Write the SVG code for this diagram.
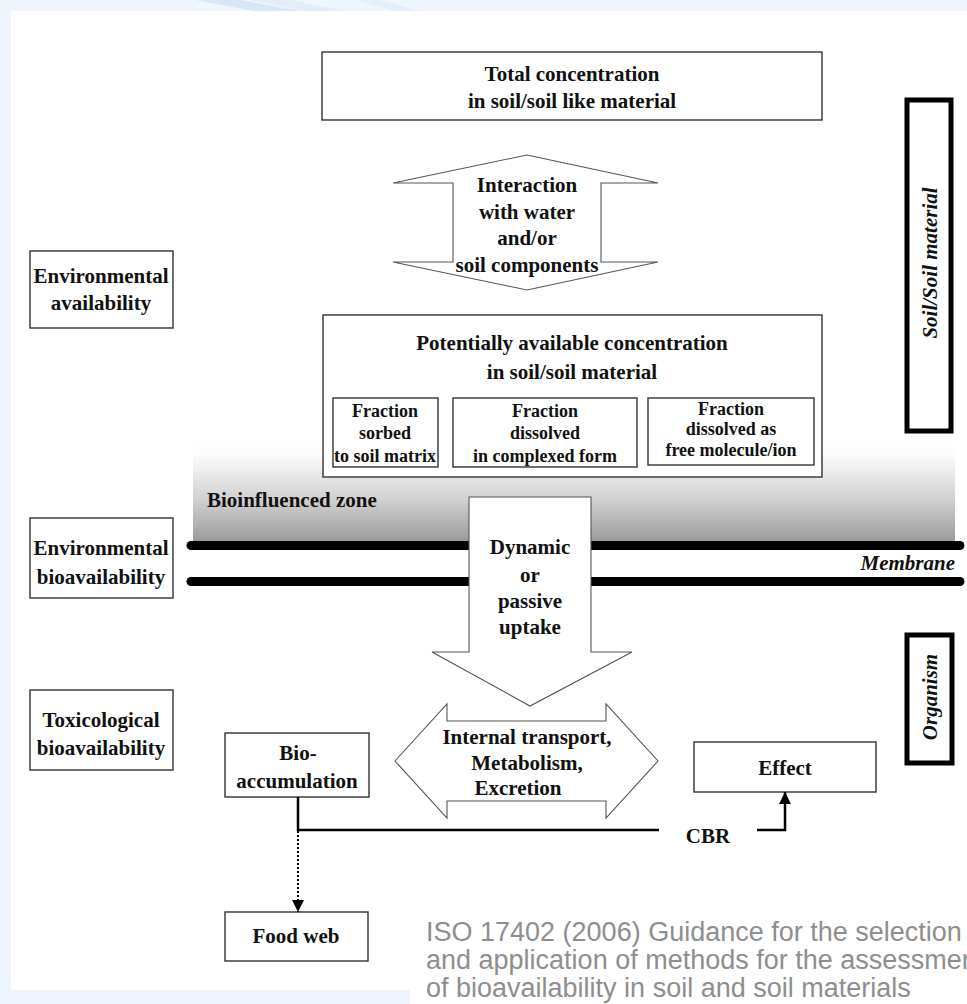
<svg xmlns="http://www.w3.org/2000/svg" width="967" height="1004" viewBox="0 0 967 1004">
<style>
.t{font-family:"Liberation Serif","Times New Roman",serif;font-weight:bold;font-size:21px;fill:#111;text-anchor:middle}
.s{font-size:18px}
.it{font-style:italic}
.box{fill:#fff;stroke:#333;stroke-width:1.4}
.thick{fill:#fff;stroke:#000;stroke-width:5}
.arr{fill:#fff;stroke:#555;stroke-width:1.1}
.mem{stroke:#000;stroke-width:9;stroke-linecap:round;fill:none}
.cap{font-family:"Liberation Sans",Arial,sans-serif;font-size:27px;fill:#8e8e8e}
</style>
<defs>
<linearGradient id="bio" gradientUnits="userSpaceOnUse" x1="0" y1="440" x2="0" y2="542">
<stop offset="0" stop-color="#fff"/>
<stop offset="0.15" stop-color="#fcfcfc"/>
<stop offset="0.6" stop-color="#cfcfcf"/>
<stop offset="1" stop-color="#999"/>
</linearGradient>
<marker id="ah" viewBox="0 0 12 12" refX="12" refY="6" markerWidth="12" markerHeight="12" markerUnits="userSpaceOnUse" orient="auto">
<path d="M0,0 L12,6 L0,12 z" fill="#000"/>
</marker>
</defs>
<g id="background">
<rect x="0" y="0" width="967" height="1004" fill="#eef5fc"/>
<polygon points="195,0 240,0 300,11 255,11" fill="#d9e7f5"/>
<polygon points="250,0 290,0 345,11 305,11" fill="#e2edf8"/>
<polygon points="355,0 380,0 420,11 395,11" fill="#e4eef8"/>
<rect x="11" y="11" width="956" height="979" fill="#fff"/>
<rect x="410" y="985" width="557" height="19" fill="#fff"/>
</g>
<g id="bioinfluenced-zone">
<rect x="193" y="440" width="762" height="102" fill="url(#bio)"/>
<text class="t" x="207" y="507" style="text-anchor:start">Bioinfluenced zone</text>
</g>
<g id="membrane">
<line class="mem" x1="191" y1="545.5" x2="960" y2="545.5"/>
<line class="mem" x1="191" y1="581.5" x2="960" y2="581.5"/>
<text class="t it" x="955" y="570" style="text-anchor:end">Membrane</text>
</g>
<g id="total-concentration">
<rect class="box" x="322" y="52" width="500" height="68"/>
<text class="t" x="572" y="81">Total concentration</text>
<text class="t" x="572" y="108">in soil/soil like material</text>
</g>
<g id="interaction">
<polygon class="arr" points="527,155 658,183 601,183 601,262 658,262 527,290 393,262 453,262 453,183 393,183"/>
<text class="t" x="527" y="192">Interaction</text>
<text class="t" x="527" y="219">with water</text>
<text class="t" x="527" y="245">and/or</text>
<text class="t" x="527" y="272">soil components</text>
</g>
<g id="potentially-available">
<rect class="box" x="323" y="315" width="499" height="162"/>
<text class="t" x="572" y="350">Potentially available concentration</text>
<text class="t" x="572" y="379">in soil/soil material</text>
</g>
<g id="fraction-sorbed">
<rect class="box" x="333" y="398" width="105" height="69"/>
<text class="t s" x="385" y="417">Fraction</text>
<text class="t s" x="385" y="439">sorbed</text>
<text class="t s" x="385" y="462">to soil matrix</text>
</g>
<g id="fraction-complexed">
<rect class="box" x="453" y="398" width="184" height="69"/>
<text class="t s" x="545" y="417">Fraction</text>
<text class="t s" x="545" y="439">dissolved</text>
<text class="t s" x="545" y="462">in complexed form</text>
</g>
<g id="fraction-free">
<rect class="box" x="648" y="398" width="166" height="67"/>
<text class="t s" x="731" y="415">Fraction</text>
<text class="t s" x="731" y="435">dissolved as</text>
<text class="t s" x="731" y="456">free molecule/ion</text>
</g>
<g id="uptake">
<polygon class="arr" points="469,497 591,497 591,652 632,652 530,706 432,652 469,652"/>
<text class="t" x="530" y="554">Dynamic</text>
<text class="t" x="530" y="582">or</text>
<text class="t" x="530" y="608">passive</text>
<text class="t" x="530" y="634">uptake</text>
</g>
<g id="internal-transport">
<polygon class="arr" points="395,761 447,704 447,721 606,721 606,704 658,761 606,818 606,801 447,801 447,818"/>
<text class="t" x="527" y="744">Internal transport,</text>
<text class="t" x="527" y="770">Metabolism,</text>
<text class="t" x="518" y="795">Excretion</text>
</g>
<g id="environmental-availability">
<rect class="box" x="30" y="251" width="143" height="77"/>
<text class="t" x="101" y="283">Environmental</text>
<text class="t" x="101" y="310">availability</text>
</g>
<g id="environmental-bioavailability">
<rect class="box" x="30" y="518" width="143" height="80"/>
<text class="t" x="101" y="555">Environmental</text>
<text class="t" x="101" y="584">bioavailability</text>
</g>
<g id="toxicological-bioavailability">
<rect class="box" x="30" y="690" width="143" height="80"/>
<text class="t" x="101" y="727">Toxicological</text>
<text class="t" x="101" y="755">bioavailability</text>
</g>
<g id="soil-material">
<rect class="thick" x="907" y="100" width="44" height="331"/>
<text class="t it" transform="translate(937,263) rotate(-90)" x="0" y="0">Soil/Soil material</text>
</g>
<g id="organism">
<rect class="thick" x="907" y="635" width="45" height="128"/>
<text class="t it" transform="translate(937,697) rotate(-90)" x="0" y="0">Organism</text>
</g>
<g id="bioaccumulation">
<rect class="box" x="225" y="733" width="144" height="64"/>
<text class="t" x="298" y="760">Bio-</text>
<text class="t" x="297" y="788">accumulation</text>
</g>
<g id="effect">
<rect class="box" x="694" y="742" width="182" height="50"/>
<text class="t" x="785" y="775">Effect</text>
</g>
<g id="food-web">
<rect class="box" x="225" y="912" width="143" height="49"/>
<text class="t" x="296" y="943">Food web</text>
</g>
<g id="connectors" fill="none" stroke="#000">
<polyline points="298,797 298,830 659,830" stroke-width="2.5"/>
<text class="t" x="708" y="843" stroke="none">CBR</text>
<polyline points="757,830 785,830 785,792" stroke-width="2.5" marker-end="url(#ah)"/>
<line x1="298" y1="831" x2="298" y2="912" stroke-width="2" stroke-dasharray="2,2" marker-end="url(#ah)"/>
</g>
<g id="caption">
<text class="cap" x="426" y="941">ISO 17402 (2006) Guidance for the selection</text>
<text class="cap" x="426" y="969">and application of methods for the assessment</text>
<text class="cap" x="426" y="997">of bioavailability in soil and soil materials</text>
</g>
</svg>
